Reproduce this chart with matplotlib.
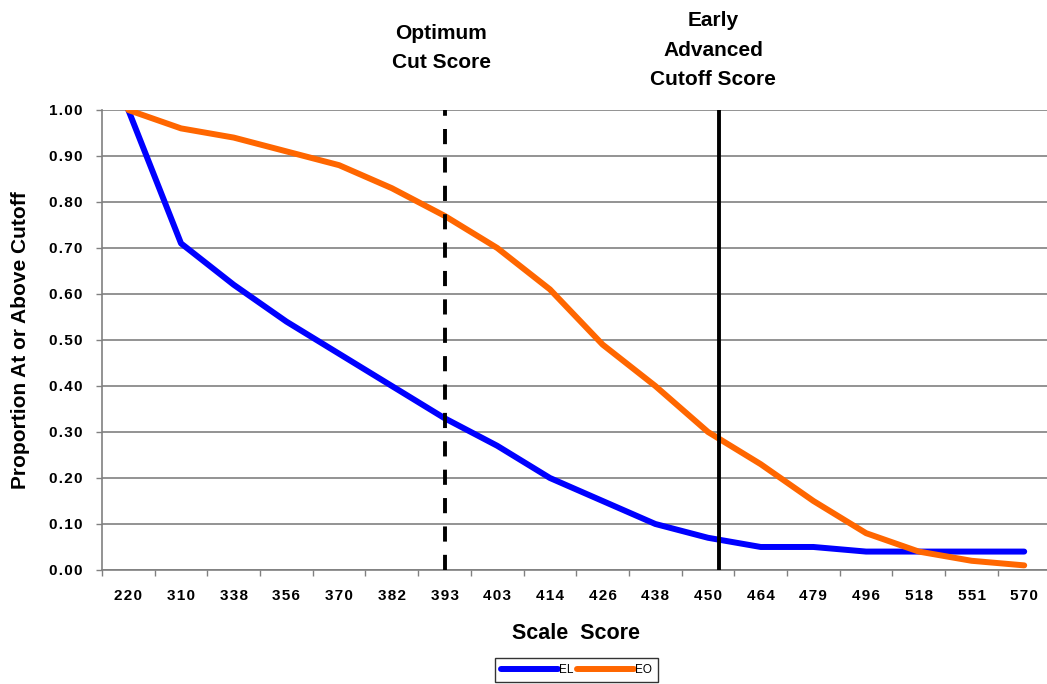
import numpy as np
import matplotlib
matplotlib.use("Agg")
import matplotlib.pyplot as plt

plt.rcParams['font.family'] = ['Liberation Sans', 'DejaVu Sans']

scores = ["220", "310", "338", "356", "370", "382", "393", "403", "414",
          "426", "438", "450", "464", "479", "496", "518", "551", "570"]
el = [1.00, 0.71, 0.62, 0.54, 0.47, 0.40, 0.33, 0.27, 0.20,
      0.15, 0.10, 0.07, 0.05, 0.05, 0.04, 0.04, 0.04, 0.04]
eo = [1.00, 0.96, 0.94, 0.91, 0.88, 0.83, 0.77, 0.70, 0.61,
      0.49, 0.40, 0.30, 0.23, 0.15, 0.08, 0.04, 0.02, 0.01]
yticks = [0.0, 0.1, 0.2, 0.3, 0.4, 0.5, 0.6, 0.7, 0.8, 0.9, 1.0]

# cutoff markers (category position along the x axis)
optimum_pos = 6.0
advanced_pos = 11.2


def spaced(s):
    # the original labels are drawn with wide letter spacing
    return "\u200a".join(s)


fig = plt.figure(figsize=(10.47, 6.84), dpi=100)
ax = fig.add_axes([0.0974, 0.1667, 0.906, 0.6725])

x = np.arange(len(scores))
ax.plot(x, el, color="#0000FF", lw=4.3, solid_capstyle="round", label="EL", zorder=3)
ax.plot(x, eo, color="#FF6600", lw=4.3, solid_capstyle="round", label="EO", zorder=3)

ax.axvline(optimum_pos, color="black", lw=2.8, dashes=(3.9, 3.4), zorder=4)
ax.axvline(advanced_pos, color="black", lw=2.8, zorder=4)

ax.set_xlim(-0.5, len(scores) - 0.5)
ax.set_ylim(0, 1.0)

ax.set_yticks(yticks)
ax.set_yticklabels([spaced("%.2f" % v) for v in yticks], fontsize=11, fontweight="bold")
ax.set_xticks(x)
ax.set_xticklabels([spaced(s) for s in scores], fontsize=11, fontweight="bold")
ax.set_xticks(np.arange(len(scores) + 1) - 0.5, minor=True)
ax.tick_params(axis="x", which="major", length=0, pad=14)
ax.tick_params(axis="x", which="minor", length=4, color="#808080", width=1)
ax.tick_params(axis="y", length=4, color="#808080", width=1, pad=10)

ax.grid(axis="y", color="#808080", lw=1.2)
ax.set_axisbelow(True)
for s in ["top", "right"]:
    ax.spines[s].set_visible(False)
for s in ["left", "bottom"]:
    ax.spines[s].set_color("#808080")
    ax.spines[s].set_linewidth(1.2)

ax.set_xlabel("Scale  Score", fontsize=15.5, fontweight="bold", labelpad=14)
ax.set_ylabel("Proportion At or Above Cutoff", fontsize=15, fontweight="bold", labelpad=14)

fig.text(441 / 1047, 1 - 48 / 684, "Optimum\nCut Score", ha="center", va="center",
         fontsize=15, fontweight="bold", linespacing=1.7)
fig.text(713 / 1047, 1 - 50 / 684, "Early\nAdvanced\nCutoff Score", ha="center", va="center",
         fontsize=15, fontweight="bold", linespacing=1.7)

leg = fig.legend(loc="upper left", bbox_to_anchor=(0.473, 0.038), ncol=2, fontsize=8.5,
                 frameon=True, fancybox=False, handlelength=4.8, handletextpad=0.1,
                 columnspacing=0.3, borderpad=0.5, borderaxespad=0)
leg.get_frame().set_edgecolor("black")
leg.get_frame().set_linewidth(1.0)

fig.savefig("out.png", dpi=100)
